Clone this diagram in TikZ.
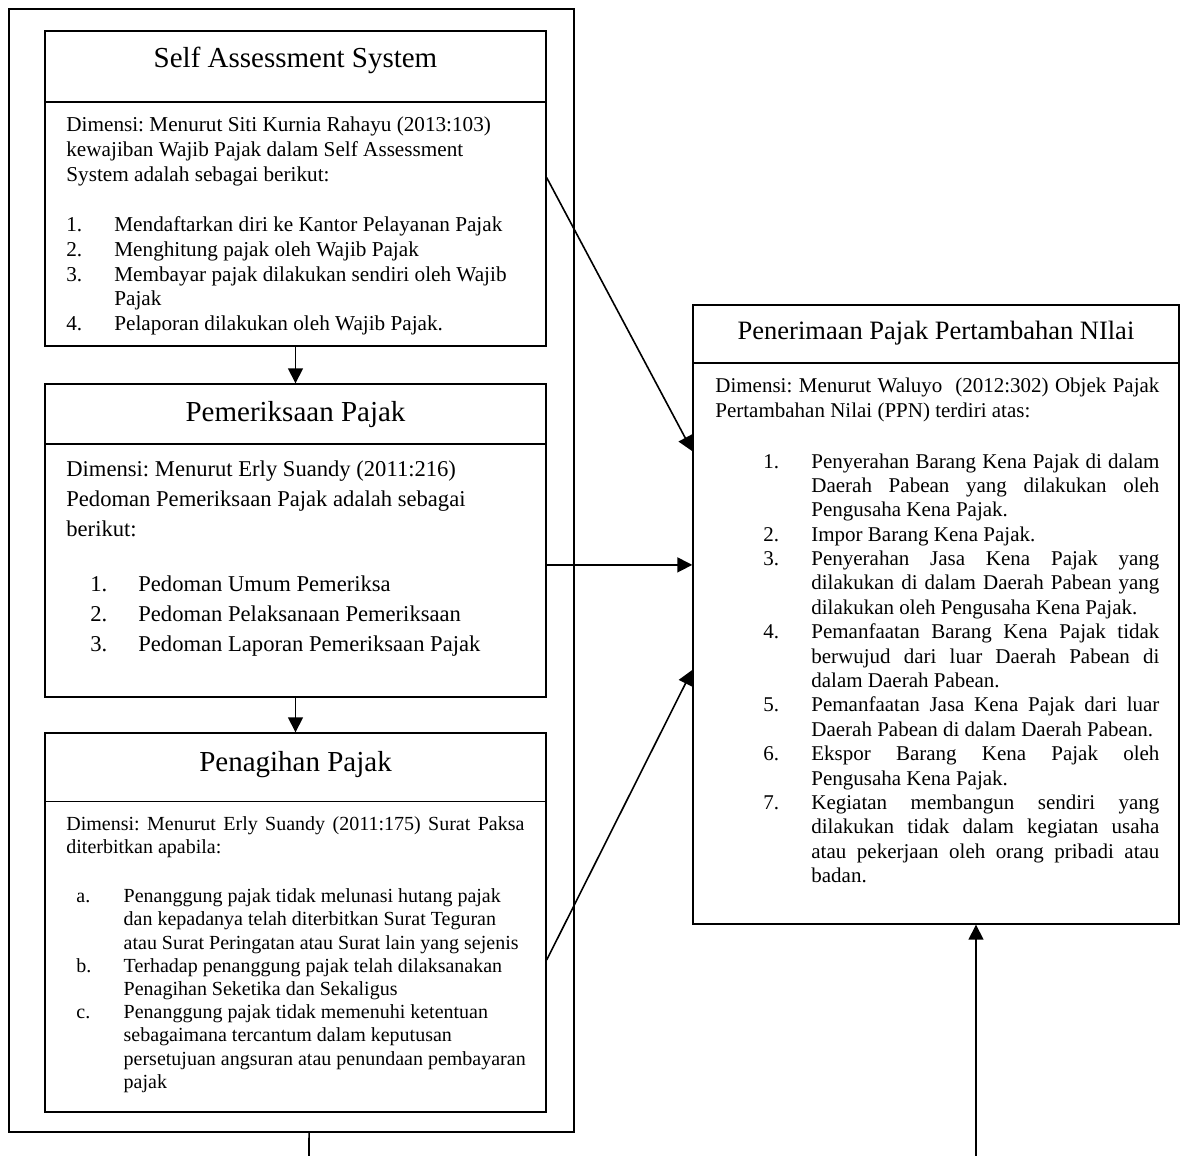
\documentclass[tikz,border=0pt]{standalone}
\usepackage{fontspec}
\setmainfont{Liberation Serif}
\usetikzlibrary{arrows.meta,fit,calc}
\frenchspacing
\newlength{\hw}
\newcommand{\li}[2]{\hangindent=\hw\hangafter=1\noindent\makebox[\hw][l]{#1}#2\par}
\tikzset{
  box/.style={draw, line width=0.7pt, inner sep=0pt},
  arr/.style={-{Triangle[length=7.5pt,width=7.5pt]}, line width=0.8pt},
  ttl/.style={anchor=base, inner sep=0pt, font=\fontsize{14.5}{17}\selectfont},
  txt/.style={anchor=base west, inner sep=0pt, text width=240pt, align=flush left},
}
\begin{document}
\begin{tikzpicture}[x=0.5pt, y=-0.5pt]
  \useasboundingbox (0,0) rectangle (1180,1156);
  % frames
  \node[box, fit={(9,9) (574,1132)}] (outer) {};
  \node[box, fit={(45,31) (546,102)}] (sasT) {};
  \node[box, fit={(45,102) (546,346)}] (sasB) {};
  \node[box, fit={(45,384) (546,444)}] (pemT) {};
  \node[box, fit={(45,444) (546,697)}] (pemB) {};
  \node[box, fit={(45,733) (546,801.7)}] (penT) {};
  \node[box, fit={(45,801.7) (546,1112)}] (penB) {};
  \node[box, fit={(693,305) (1179,363)}] (rT) {};
  \node[box, fit={(693,363) (1179,924)}] (rB) {};
  % titles
  \node[ttl] (sasTtl) at (295.5,68) {Self Assessment System};
  \node[ttl] (pemTtl) at (295.5,421.7) {Pemeriksaan Pajak};
  \node[ttl] (penTtl) at (295.5,771.7) {Penagihan Pajak};
  \node[ttl, font=\fontsize{13.25}{16}\selectfont] (rTtl) at (936,340) {Penerimaan Pajak Pertambahan NIlai};
  % self assessment
  \node[txt, font=\fontsize{10.6}{12.3}\selectfont] (sasIntro) at (66,132)
    {Dimensi: Menurut Siti Kurnia Rahayu (2013:103)\linebreak
     kewajiban Wajib Pajak dalam Self Assessment\linebreak
     System adalah sebagai berikut:};
  \node[txt, font=\fontsize{10.6}{12.3}\selectfont] (sasList) at (66,232)
    {\setlength{\hw}{24pt}%
     \li{1.}{Mendaftarkan diri ke Kantor Pelayanan Pajak}
     \li{2.}{Menghitung pajak oleh Wajib Pajak}
     \li{3.}{Membayar pajak dilakukan sendiri oleh Wajib\linebreak Pajak}
     \li{4.}{Pelaporan dilakukan oleh Wajib Pajak.}};
  % pemeriksaan
  \node[txt, font=\fontsize{11.3}{15}\selectfont] (pemIntro) at (66,476)
    {Dimensi: Menurut Erly Suandy (2011:216)\linebreak
     Pedoman Pemeriksaan Pajak adalah sebagai\linebreak
     berikut:};
  \node[txt, font=\fontsize{11.3}{15}\selectfont] (pemList) at (66,591.7)
    {\setlength{\hw}{24pt}\leftskip=12pt
     \li{1.}{Pedoman Umum Pemeriksa}
     \li{2.}{Pedoman Pelaksanaan Pemeriksaan}
     \li{3.}{Pedoman Laporan Pemeriksaan Pajak}};
  % penagihan
  \node[txt, text width=229pt, align=justify, font=\fontsize{10}{11.6}\selectfont] (penIntro) at (66,830)
    {Dimensi: Menurut Erly Suandy (2011:175) Surat Paksa\linebreak
     diterbitkan apabila:};
  \node[txt, font=\fontsize{10}{11.6}\selectfont] (penList) at (66,902.7)
    {\setlength{\hw}{23.65pt}\leftskip=5pt
     \li{a.}{Penanggung pajak tidak melunasi hutang pajak\linebreak
       dan kepadanya telah diterbitkan Surat Teguran\linebreak
       atau Surat Peringatan atau Surat lain yang sejenis}
     \li{b.}{Terhadap penanggung pajak telah dilaksanakan\linebreak
       Penagihan Seketika dan Sekaligus}
     \li{c.}{Penanggung pajak tidak memenuhi ketentuan\linebreak
       sebagaimana tercantum dalam keputusan\linebreak
       persetujuan angsuran atau penundaan pembayaran\linebreak
       pajak}};
  % penerimaan ppn
  \node[txt, text width=222pt, align=justify, font=\fontsize{10.5}{12.2}\selectfont] (rIntro) at (715,393)
    {Dimensi: Menurut Waluyo\ \ (2012:302) Objek Pajak\linebreak
     Pertambahan Nilai (PPN) terdiri atas:};
  \node[txt, text width=222pt, align=justify, font=\fontsize{10.5}{12.2}\selectfont] (rList) at (715,468)
    {\setlength{\hw}{24pt}\leftskip=24pt
     \li{1.}{Penyerahan Barang Kena Pajak di dalam\linebreak
       Daerah Pabean yang dilakukan oleh\linebreak
       Pengusaha Kena Pajak.}
     \li{2.}{Impor Barang Kena Pajak.}
     \li{3.}{Penyerahan Jasa Kena Pajak yang\linebreak
       dilakukan di dalam Daerah Pabean yang\linebreak
       dilakukan oleh Pengusaha Kena Pajak.}
     \li{4.}{Pemanfaatan Barang Kena Pajak tidak\linebreak
       berwujud dari luar Daerah Pabean di\linebreak
       dalam Daerah Pabean.}
     \li{5.}{Pemanfaatan Jasa Kena Pajak dari luar\linebreak
       Daerah Pabean di dalam Daerah Pabean.}
     \li{6.}{Ekspor Barang Kena Pajak oleh\linebreak
       Pengusaha Kena Pajak.}
     \li{7.}{Kegiatan membangun sendiri yang\linebreak
       dilakukan tidak dalam kegiatan usaha\linebreak
       atau pekerjaan oleh orang pribadi atau\linebreak
       badan.}};
  % connectors
  \draw[arr] (sasB.south) -- (pemT.north);
  \draw[arr] (pemB.south) -- (penT.north);
  \draw[arr] ($(sasB.north east)!0.311!(sasB.south east)$) -- ($(rB.north west)!0.158!(rB.south west)$);
  \draw[arr] ($(pemB.north east)!0.478!(pemB.south east)$) coordinate (h1) -- (h1 -| rB.west);
  \draw[arr] ($(penB.north east)!0.51!(penB.south east)$) -- ($(rB.north west)!0.547!(rB.south west)$);
  \coordinate (downEnd) at (309,1156);
  \draw[line width=0.8pt] ($(outer.south west)!0.531!(outer.south east)$) -- (downEnd);
  \coordinate (upStart) at (976,1156);
  \draw[arr] (upStart) -- (upStart |- rB.south);
\end{tikzpicture}
\end{document}
